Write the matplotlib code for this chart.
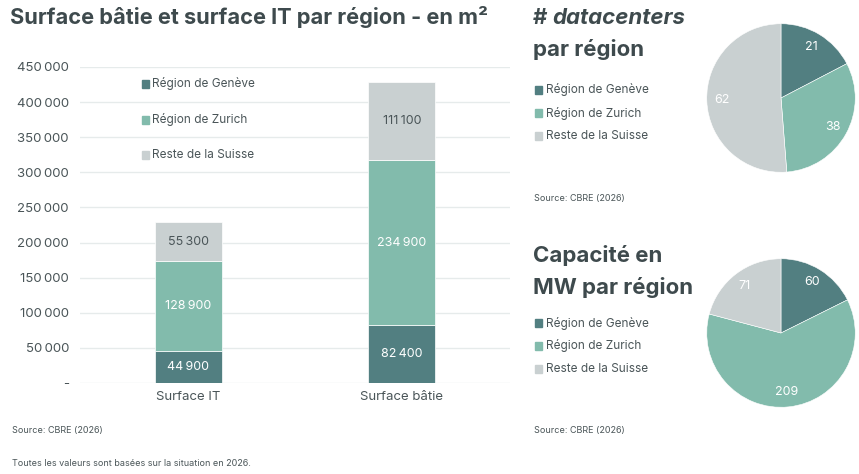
import matplotlib
matplotlib.use("Agg")
import matplotlib.pyplot as plt
from matplotlib.patches import Rectangle

plt.rcParams['font.family'] = ['Inter', 'DejaVu Sans']

# ---- data ----
regions = ["Région de Genève", "Région de Zurich", "Reste de la Suisse"]
bar_categories = ["Surface IT", "Surface bâtie"]
geneve_m2 = [44900, 82400]
zurich_m2 = [128900, 234900]
reste_m2 = [55300, 111100]
datacenters = [21, 38, 62]
capacite_mw = [60, 209, 71]
yticks = [0, 50000, 100000, 150000, 200000, 250000, 300000, 350000, 400000, 450000]

colors = ["#527F81", "#82BBAC", "#C9D0D1"]
label_colors = ["white", "white", "#4A5558"]
dark = "#3E4A4D"
tick_col = "#4A5558"
W, H = 859, 474

fig = plt.figure(figsize=(W / 100, H / 100), dpi=100)

def fx(px):
    return px / W

def fy(py):
    return 1 - py / H

def fmt(v):
    if v == 0:
        return "-"
    return f"{v:,}".replace(",", "\u202f")

# ---- bar chart ----
ax = fig.add_axes([fx(80), fy(383), fx(510) - fx(80), fy(67) - fy(383)])
x = [0, 1]
series = [geneve_m2, zurich_m2, reste_m2]
bottom = [0, 0]
for s, c, lc in zip(series, colors, label_colors):
    ax.bar(x, s, bottom=bottom, color=c, width=0.313, zorder=3,
           edgecolor="white", linewidth=0.5)
    for xi, b, v in zip(x, bottom, s):
        ax.text(xi, b + v / 2, fmt(v), ha="center", va="center",
                color=lc, fontsize=9, zorder=4)
    bottom = [b + v for b, v in zip(bottom, s)]

ax.set_xlim(-0.505, 1.505)
ax.set_ylim(0, 450000)
ax.set_yticks(yticks)
ax.set_yticklabels([fmt(v) for v in yticks], fontsize=9.5, color=tick_col)
ax.set_xticks(x)
ax.set_xticklabels(bar_categories, fontsize=9.5, color=tick_col)
ax.tick_params(axis="both", length=0, pad=8)
ax.tick_params(axis="x", pad=6)
ax.grid(axis="y", color="#E6EBEB", linewidth=1, zorder=0)
for sp in ax.spines.values():
    sp.set_visible(False)

# bar legend
for i, (r, c) in enumerate(zip(regions, colors)):
    ycen = 84 + i * 35.5
    fig.patches.append(Rectangle((fx(142), fy(ycen + 4)), fx(7), fy(ycen - 4) - fy(ycen + 4),
                                 transform=fig.transFigure, color=c))
    fig.text(fx(152), fy(ycen), r, fontsize=8.5, color=tick_col, va="center", ha="left")

fig.text(fx(10), fy(17), "Surface bâtie et surface IT par région - en m²",
         fontsize=15.7, fontweight="bold", color=dark, va="center", ha="left")
fig.text(fx(12), fy(431), "Source: CBRE (2026)", fontsize=6.5, color=tick_col, va="center")
fig.text(fx(12), fy(463), "Toutes les valeurs sont basées sur la situation en 2026.",
         fontsize=6.5, color=tick_col, va="center")

# ---- pies ----
def pie(values, cy, legend_y):
    cx, r = 781, 75
    pax = fig.add_axes([fx(cx - r), fy(cy + r), fx(2 * r), fy(cy - r) - fy(cy + r)])
    wedges, texts = pax.pie(values, colors=colors, startangle=90, counterclock=False,
                            labels=[str(v) for v in values], labeldistance=0.8,
                            wedgeprops=dict(edgecolor="white", linewidth=0.4),
                            textprops=dict(color="white", fontsize=9))
    for t in texts:
        t.set_ha("center")
        t.set_va("center")
    pax.set_xlim(-1.01, 1.01)
    pax.set_ylim(-1.01, 1.01)
    pax.set_aspect("equal")
    pax.axis("off")
    for i, (rg, c) in enumerate(zip(regions, colors)):
        ycen = legend_y + i * 23
        fig.patches.append(Rectangle((fx(535), fy(ycen + 4)), fx(7), fy(ycen - 4) - fy(ycen + 4),
                                     transform=fig.transFigure, color=c))
        fig.text(fx(546), fy(ycen), rg, fontsize=8.5, color=tick_col, va="center", ha="left")

pie(datacenters, 98, 90)
pie(capacite_mw, 333, 323)

# pie titles
t1 = fig.text(fx(533), fy(18), "# ", fontsize=16, fontweight="bold", color=dark, va="center")
fig.canvas.draw()
bb = t1.get_window_extent()
fig.text(bb.x1 / W, fy(18), "datacenters", fontsize=16, fontweight="bold", style="italic",
         color=dark, va="center")
fig.text(fx(533), fy(50), "par région", fontsize=16, fontweight="bold", color=dark, va="center")
fig.text(fx(533), fy(256), "Capacité en", fontsize=16, fontweight="bold", color=dark, va="center")
fig.text(fx(533), fy(288), "MW par région", fontsize=16, fontweight="bold", color=dark, va="center")

fig.text(fx(534), fy(199), "Source: CBRE (2026)", fontsize=6.5, color=tick_col, va="center")
fig.text(fx(534), fy(431), "Source: CBRE (2026)", fontsize=6.5, color=tick_col, va="center")

fig.savefig("out.png", dpi=100, facecolor="white")
